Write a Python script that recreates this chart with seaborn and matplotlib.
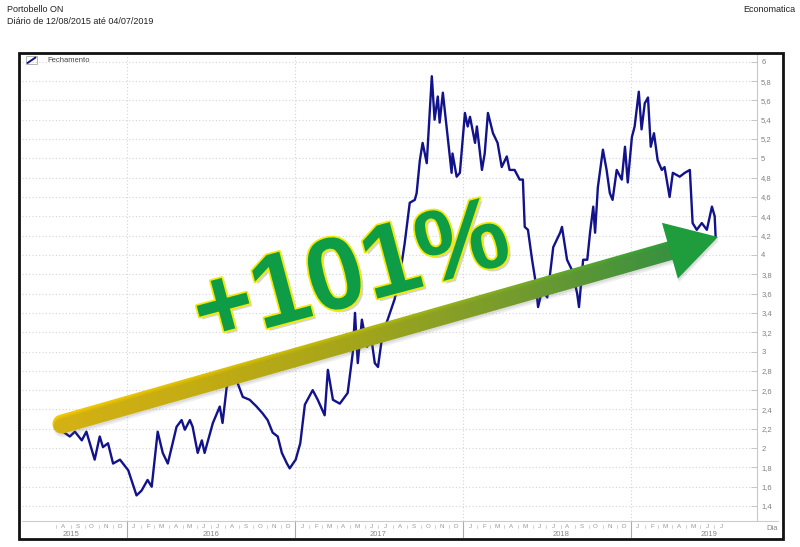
import numpy as np
import pandas as pd
import matplotlib
matplotlib.use("Agg")
import matplotlib.pyplot as plt
import matplotlib.patheffects as pe
import matplotlib.transforms as mtransforms
from matplotlib.patches import Polygon, Rectangle
from matplotlib.colors import LinearSegmentedColormap
import seaborn as sns

# closing prices (R$)
dates = [
    "2015-08-12", "2015-08-30", "2015-09-10", "2015-09-25", "2015-10-05", "2015-10-23",
    "2015-11-03", "2015-11-10", "2015-11-21", "2015-12-02", "2015-12-17",
    "2016-01-04", "2016-01-22", "2016-02-02", "2016-02-15", "2016-02-24", "2016-03-08",
    "2016-03-19", "2016-03-30", "2016-04-18", "2016-04-29", "2016-05-06", "2016-05-17",
    "2016-05-23", "2016-06-03", "2016-06-12", "2016-06-18", "2016-07-06", "2016-07-21",
    "2016-07-27", "2016-08-05", "2016-08-16", "2016-08-29", "2016-09-09", "2016-09-24",
    "2016-10-09", "2016-10-22", "2016-11-02", "2016-11-13", "2016-11-24", "2016-12-03",
    "2016-12-14", "2016-12-20",
    "2017-01-02", "2017-01-12", "2017-01-22", "2017-02-08", "2017-02-19", "2017-03-06",
    "2017-03-13", "2017-03-24", "2017-04-08", "2017-04-25", "2017-05-06", "2017-05-11",
    "2017-05-17", "2017-05-26", "2017-06-06", "2017-06-16", "2017-06-23", "2017-06-30",
    "2017-07-10", "2017-07-21", "2017-08-05", "2017-08-16", "2017-08-27", "2017-09-07",
    "2017-09-18", "2017-09-22", "2017-09-29", "2017-10-05", "2017-10-14", "2017-10-25",
    "2017-10-31", "2017-11-07", "2017-11-11", "2017-11-18", "2017-11-29", "2017-12-07",
    "2017-12-09", "2017-12-18", "2017-12-25",
    "2018-01-05", "2018-01-11", "2018-01-16", "2018-01-27", "2018-01-31", "2018-02-11",
    "2018-02-17", "2018-02-24", "2018-03-07", "2018-03-17", "2018-03-26", "2018-04-06",
    "2018-04-12", "2018-04-23", "2018-05-04", "2018-05-11", "2018-05-15", "2018-05-22",
    "2018-05-31", "2018-06-07", "2018-06-13", "2018-06-22", "2018-07-03", "2018-07-16",
    "2018-07-31", "2018-08-04", "2018-08-15", "2018-08-26", "2018-09-06", "2018-09-10",
    "2018-09-19", "2018-09-28", "2018-10-04", "2018-10-11", "2018-10-15", "2018-10-21",
    "2018-11-01", "2018-11-09", "2018-11-16", "2018-11-22", "2018-12-01", "2018-12-12",
    "2018-12-19", "2018-12-25",
    "2019-01-03", "2019-01-09", "2019-01-18", "2019-01-24", "2019-01-31", "2019-02-07",
    "2019-02-13", "2019-02-20", "2019-02-28", "2019-03-09", "2019-03-15", "2019-03-26",
    "2019-04-02", "2019-04-17", "2019-04-28", "2019-05-09", "2019-05-15", "2019-05-24",
    "2019-06-04", "2019-06-15", "2019-06-26", "2019-07-02", "2019-07-04",
]
closes = [
    2.18, 2.12, 2.17, 2.08, 2.17, 1.88, 2.12, 2.01, 2.05, 1.84, 1.88,
    1.77, 1.51, 1.56, 1.67, 1.60, 2.17, 1.95, 1.84, 2.22, 2.29, 2.19, 2.29,
    2.22, 1.95, 2.08, 1.95, 2.26, 2.43, 2.26, 2.63, 2.75, 2.67, 2.53, 2.50,
    2.43, 2.36, 2.29, 2.16, 2.12, 1.95, 1.84, 1.79,
    1.88, 2.05, 2.45, 2.60, 2.50, 2.34, 2.81, 2.50, 2.46, 2.57, 2.98, 3.40,
    2.88, 3.33, 3.05, 3.12, 2.88, 2.84, 3.19, 3.33, 3.54, 3.77, 4.12, 4.54,
    4.57, 4.64, 4.98, 5.16, 4.95, 5.85, 5.40, 5.64, 5.37, 5.68, 5.20, 4.85,
    5.05, 4.81, 4.85,
    5.47, 5.33, 5.43, 5.16, 5.33, 4.88, 5.05, 5.47, 5.26, 5.16, 4.91, 5.02,
    4.88, 4.88, 4.78, 4.78, 4.29, 4.26, 3.95, 3.74, 3.46, 3.64, 3.56, 4.08,
    4.23, 4.29, 3.95, 3.84, 3.60, 3.46, 3.95, 3.95, 4.23, 4.50, 4.23, 4.70,
    5.09, 4.88, 4.64, 4.57, 4.88, 4.78, 5.12, 4.75,
    5.22, 5.33, 5.69, 5.30, 5.57, 5.63, 5.12, 5.26, 4.98, 4.88, 4.91, 4.60,
    4.85, 4.81, 4.85, 4.88, 4.33, 4.26, 4.33, 4.26, 4.50, 4.40, 4.19,
]
y_ticks = np.round(np.arange(1.4, 6.01, 0.2), 1)
month_letters = ["J", "F", "M", "A", "M", "J", "J", "A", "S", "O", "N", "D"]
title = "Portobello ON"
subtitle = "Diário de 12/08/2015 até 04/07/2019"
gain_label = "+101%"

df = pd.DataFrame({"Data": pd.to_datetime(dates), "Fechamento": closes})

sns.set_style("white")
plt.rcParams["font.family"] = ["Liberation Sans", "DejaVu Sans"]

W, H = 800, 547
fig = plt.figure(figsize=(8, 5.47), dpi=100)
ax = fig.add_axes([22 / W, 1 - 521 / H, (757 - 22) / W, (521 - 55) / H])
ax.set_zorder(1)

sns.lineplot(data=df, x="Data", y="Fechamento", color="#12128c", lw=1.7, ax=ax, legend=False)

ax.set_xlim(pd.Timestamp("2015-05-18"), pd.Timestamp("2019-10-02"))
ax.set_ylim(1.245, 6.07)
ax.set_xlabel("")
ax.set_ylabel("")

ax.yaxis.tick_right()
ax.set_yticks(y_ticks)
ax.set_yticklabels([f"{v:g}".replace(".", ",") for v in y_ticks])
ax.tick_params(axis="y", direction="in", length=4, width=0.6, color="#c0c0c0",
               labelsize=5.5, labelcolor="#808080", pad=3)
ax.set_xticks([])
ax.grid(axis="y", ls=(0, (1, 2)), color="#d4d4d4", lw=0.8)
for s in ["top", "left", "bottom"]:
    ax.spines[s].set_visible(False)
ax.spines["right"].set_color("#c8c8c8")
ax.spines["right"].set_linewidth(0.8)

years = sorted(df["Data"].dt.year.unique())
for yr in years[1:]:
    ax.axvline(pd.Timestamp(f"{yr}-01-01"), ls=(0, (1, 2)), color="#d4d4d4", lw=0.8, zorder=0)

# overlay in pixel coordinates for frame, header, arrow and label
ov = fig.add_axes([0, 0, 1, 1])
ov.set_zorder(2)
ov.axis("off")
ov.patch.set_alpha(0)

ov.text(7, 10, title, fontsize=6.5, color="#222222", va="center")
ov.text(7, 22, subtitle, fontsize=6.5, color="#222222", va="center")
ov.text(795, 10, "Economatica", fontsize=6.5, color="#222222", va="center", ha="right")
ov.add_patch(Rectangle((19, 53), 764, 486, fill=False, lw=2, ec="#111111"))

# legend
ov.add_patch(Rectangle((26, 56), 11, 8, fill=False, lw=0.5, ec="#999999"))
ov.plot([27.5, 35.5], [63, 57.5], color="#12128c", lw=1.4)
ov.text(47, 60, "Fechamento", fontsize=5.5, color="#444444", va="center")

# x axis with month letters and years
ov.plot([22, 778], [521, 521], color="#cccccc", lw=0.8)
ov.text(772, 528, "Dia", fontsize=5.5, color="#888888", va="center", ha="center")
bt = mtransforms.blended_transform_factory(ax.transData, ov.transData)
months = pd.date_range(df["Data"].min().to_period("M").to_timestamp(),
                       df["Data"].max(), freq="MS")
for m in months:
    mid = m + pd.Timedelta(days=15)
    ax.text(mid, 526.5, month_letters[m.month - 1], transform=bt, fontsize=4.5,
            color="#999999", ha="center", va="center", clip_on=False)
    if m.month != 1:
        ax.plot([m, m], [525, 528], transform=bt, color="#bbbbbb", lw=0.5, clip_on=False)
for yr in years:
    if yr != years[0]:
        ax.plot([pd.Timestamp(f"{yr}-01-01")] * 2, [522, 537], transform=bt,
                color="#aaaaaa", lw=0.8, clip_on=False)
year_pos = {2015: "2015-09-01", 2016: "2016-07-01", 2017: "2017-07-01",
            2018: "2018-08-01", 2019: "2019-06-20"}
for yr in years:
    ax.text(pd.Timestamp(year_pos[yr]), 534, str(yr), transform=bt, fontsize=5.5,
            color="#888888", ha="center", va="center", clip_on=False)

# gradient arrow
S = np.array([62.0, 424.0])
T = np.array([718.0, 237.0])
u = (T - S) / np.linalg.norm(T - S)
n = np.array([-u[1], u[0]])
head_len, head_hw, shaft_hw = 50, 29, 9.5
B = T - u * head_len
cap = [S + shaft_hw * (np.cos(a) * n - np.sin(a) * u) for a in np.linspace(0, np.pi, 24)]
shaft = np.array([B + shaft_hw * n + u * 4] + cap + [B - shaft_hw * n + u * 4])
head = np.array([B + head_hw * n, T, B - head_hw * n])

for off, a in [((1, 4), 0.10), ((1, 2), 0.12)]:
    ov.add_patch(Polygon(shaft + np.array(off), closed=True, fc="#606060", ec="none", alpha=a))
    ov.add_patch(Polygon(head + np.array(off), closed=True, fc="#606060", ec="none", alpha=a))

clip = Polygon(shaft, closed=True, fc="none", ec="none")
ov.add_patch(clip)
gx = np.linspace(40, 700, 400)
gy = np.linspace(200, 450, 200)
GX, GY = np.meshgrid(gx, gy)
t = ((GX - S[0]) * u[0] + (GY - S[1]) * u[1]) / np.linalg.norm(B - S)
cmap = LinearSegmentedColormap.from_list(
    "arrow", ["#f4c800", "#dcc000", "#b3b80a", "#7aac22", "#2e9f38"])
im = ov.imshow(np.clip(t, 0, 1), cmap=cmap, vmin=0, vmax=1, extent=(40, 700, 450, 200),
               origin="upper", aspect="auto", interpolation="bilinear")
im.set_clip_path(clip)
ov.add_patch(Polygon(head, closed=True, fc="#1f9c3c", ec="none"))
ov.set_xlim(0, W)
ov.set_ylim(H, 0)

ov.text(352, 278, gain_label, fontsize=74, fontweight="bold", color="#0f9c46",
        rotation=15, ha="center", va="center", rotation_mode="anchor",
        path_effects=[pe.SimplePatchShadow(offset=(2, -2), shadow_rgbFace="#888888", alpha=0.35),
                      pe.Stroke(linewidth=2.5, foreground="#f2ea00"), pe.Normal()])

fig.savefig("out.png", dpi=100)
